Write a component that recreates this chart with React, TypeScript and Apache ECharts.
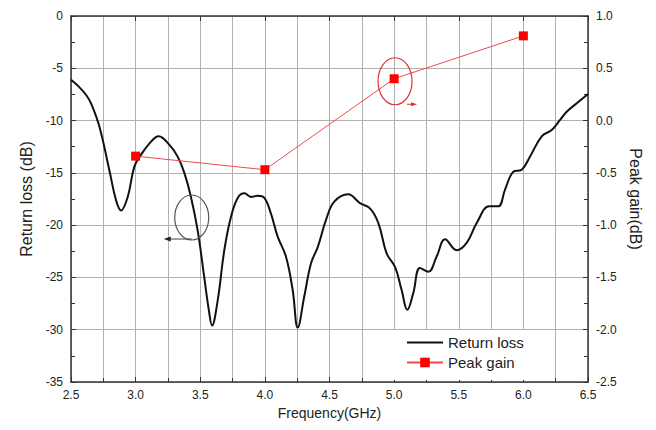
import React, { useEffect, useRef } from "react";
import * as echarts from "echarts";

const rlFreq = [2.5, 2.564, 2.62, 2.655, 2.72, 2.796, 2.848, 2.887, 2.939, 2.99, 3.04, 3.106, 3.178, 3.26, 3.325, 3.377, 3.428, 3.48, 3.53, 3.565, 3.591, 3.635, 3.686, 3.738, 3.79, 3.841, 3.893, 3.944, 3.996, 4.047, 4.099, 4.163, 4.215, 4.254, 4.305, 4.357, 4.409, 4.473, 4.537, 4.645, 4.736, 4.813, 4.878, 4.942, 5.007, 5.058, 5.102, 5.148, 5.2, 5.265, 5.329, 5.394, 5.484, 5.561, 5.639, 5.736, 5.806, 5.858, 5.922, 5.987, 6.051, 6.142, 6.219, 6.284, 6.335, 6.413, 6.5];
const rlValues = [-6.1, -6.8, -7.6, -8.35, -10.6, -14.7, -17.6, -18.6, -17.3, -14.4, -13.3, -12.2, -11.5, -12.3, -13.45, -15.0, -17.3, -20.5, -24.9, -28.0, -29.6, -27.2, -22.4, -19.2, -17.4, -16.96, -17.3, -17.2, -17.4, -18.9, -21.1, -23.0, -26.2, -29.8, -26.8, -23.65, -22.1, -19.5, -17.76, -17.05, -17.9, -18.4, -19.8, -22.7, -24.0, -26.2, -28.1, -26.5, -24.1, -24.45, -23.0, -21.35, -22.4, -21.7, -19.8, -18.2, -18.2, -16.6, -14.9, -14.7, -13.45, -11.5, -10.9, -9.94, -9.15, -8.35, -7.45];

const gainFreq = [3.0, 4.0, 5.0, 6.0];
const gainValues = [-0.34, -0.47, 0.4, 0.81];

const FONT = "'Liberation Sans', Arial, sans-serif";
const TXT = "#222";

export default function App() {
  const ref = useRef<HTMLDivElement>(null);
  useEffect(() => {
    if (!ref.current) return;
    const chart = echarts.init(ref.current, null, { renderer: "svg" });
    const axisLine = { show: true, onZero: false, lineStyle: { color: "#333", width: 1.5 } };
    const gridLine = { show: true, lineStyle: { color: "#b0b0b0", width: 1 } };
    chart.setOption({
      animation: false,
      backgroundColor: "#fff",
      textStyle: { fontFamily: FONT },
      grid: { left: 71, right: 68, top: 16, bottom: 48 },
      legend: {
        orient: "vertical",
        left: 392,
        top: 330,
        backgroundColor: "#fff",
        padding: [5, 12, 10, 14],
        itemWidth: 36,
        itemHeight: 12,
        itemGap: 5,
        textStyle: { fontSize: 15, color: TXT, fontFamily: FONT },
        data: [
          { name: "Return loss", icon: "path://M0,0 L36,0 L36,2 L0,2 Z" },
          { name: "Peak gain" },
        ],
      },
      xAxis: [
        {
          type: "value",
          min: 2.5,
          max: 6.5,
          interval: 0.5,
          name: "Frequency(GHz)",
          nameLocation: "middle",
          nameGap: 21,
          nameTextStyle: { fontSize: 14, color: TXT, fontFamily: FONT },
          axisLine,
          axisTick: { show: true, inside: true, length: 5, lineStyle: { color: "#333" } },
          minorTick: { show: true, splitNumber: 2, length: 4, lineStyle: { color: "#333" } },
          axisLabel: { fontSize: 12, color: TXT, margin: 7, formatter: (v: number) => v.toFixed(1) },
          splitLine: gridLine,
          minorSplitLine: gridLine,
        },
        {
          type: "value",
          position: "top",
          min: 2.5,
          max: 6.5,
          interval: 0.5,
          axisLine,
          axisTick: { show: true, inside: true, length: 5, lineStyle: { color: "#333" } },
          axisLabel: { show: false },
          splitLine: { show: false },
        },
      ],
      yAxis: [
        {
          type: "value",
          min: -35,
          max: 0,
          interval: 5,
          name: "Return loss (dB)",
          nameLocation: "middle",
          nameGap: 37,
          nameTextStyle: { fontSize: 16, color: TXT, fontFamily: FONT },
          axisLine,
          axisTick: { show: true, inside: true, length: 5, lineStyle: { color: "#333" } },
          minorTick: { show: true, splitNumber: 2, length: 4, lineStyle: { color: "#333" } },
          axisLabel: { fontSize: 12, color: TXT, margin: 8 },
          splitLine: gridLine,
        },
        {
          type: "value",
          min: -2.5,
          max: 1.0,
          interval: 0.5,
          position: "right",
          name: "Peak gain(dB)",
          nameLocation: "middle",
          nameGap: 39,
          nameRotate: -90,
          nameTextStyle: { fontSize: 16, color: TXT, fontFamily: FONT },
          axisLine,
          axisTick: { show: true, inside: true, length: 5, lineStyle: { color: "#333" } },
          minorTick: { show: true, splitNumber: 2, length: 4, lineStyle: { color: "#333" } },
          axisLabel: { fontSize: 12, color: TXT, margin: 8, formatter: (v: number) => v.toFixed(1) },
          splitLine: { show: false },
        },
      ],
      series: [
        {
          name: "Return loss",
          type: "line",
          xAxisIndex: 0,
          yAxisIndex: 0,
          data: rlFreq.map((f, i) => [f, rlValues[i]]),
          smooth: 0.4,
          showSymbol: false,
          symbol: "none",
          lineStyle: { color: "#111", width: 2 },
          itemStyle: { color: "#111" },
          z: 3,
        },
        {
          name: "Peak gain",
          type: "line",
          xAxisIndex: 0,
          yAxisIndex: 1,
          data: gainFreq.map((f, i) => [f, gainValues[i]]),
          symbol: "rect",
          symbolSize: 9,
          lineStyle: { color: "#f24a4a", width: 1 },
          itemStyle: { color: "#ff0000" },
          z: 4,
        },
      ],
    });

    const c1 = chart.convertToPixel({ xAxisIndex: 0, yAxisIndex: 0 }, [3.434, -19.27]) as number[];
    const c2 = chart.convertToPixel({ xAxisIndex: 0, yAxisIndex: 1 }, [5.007, 0.376]) as number[];
    chart.setOption({
      graphic: [
        {
          type: "ellipse",
          shape: { cx: c1[0], cy: c1[1], rx: 17, ry: 22.5 },
          style: { fill: "none", stroke: "#555", lineWidth: 1.2 },
          z: 10,
        },
        {
          type: "line",
          shape: { x1: c1[0], y1: c1[1] + 21.5, x2: c1[0] - 22, y2: c1[1] + 21.5 },
          style: { stroke: "#444", lineWidth: 1 },
          z: 10,
        },
        {
          type: "polygon",
          shape: { points: [[c1[0] - 28, c1[1] + 21.5], [c1[0] - 21, c1[1] + 19], [c1[0] - 21, c1[1] + 24]] },
          style: { fill: "#222" },
          z: 10,
        },
        {
          type: "ellipse",
          shape: { cx: c2[0], cy: c2[1], rx: 17, ry: 23.5 },
          style: { fill: "none", stroke: "#e03030", lineWidth: 1.2 },
          z: 10,
        },
        {
          type: "line",
          shape: { x1: c2[0] + 12, y1: c2[1] + 23, x2: c2[0] + 17, y2: c2[1] + 23 },
          style: { stroke: "#e03030", lineWidth: 1 },
          z: 10,
        },
        {
          type: "polygon",
          shape: { points: [[c2[0] + 22, c2[1] + 23], [c2[0] + 16, c2[1] + 21], [c2[0] + 16, c2[1] + 25]] },
          style: { fill: "#e03030" },
          z: 10,
        },
      ],
    });
    return () => chart.dispose();
  }, []);
  return (
    <div
      ref={ref}
      style={{ position: "fixed", left: 0, top: 0, width: 656, height: 430, background: "#fff" }}
    />
  );
}
